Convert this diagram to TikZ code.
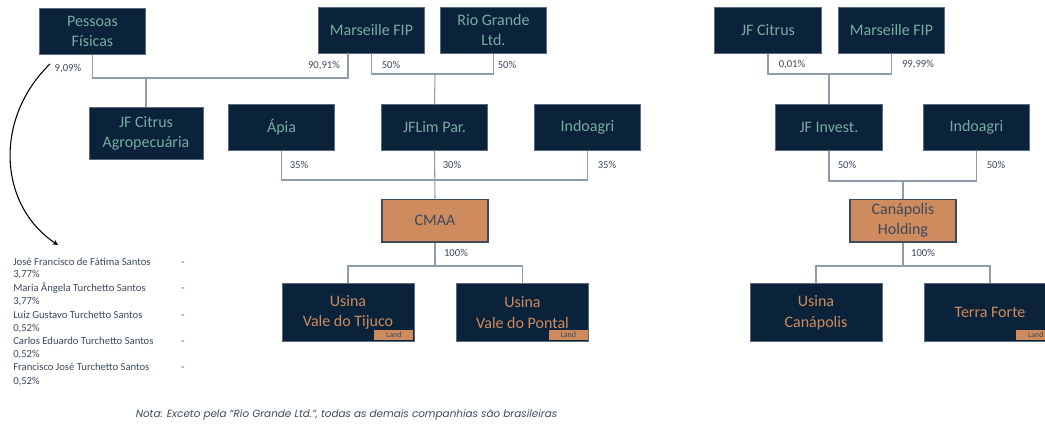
\documentclass[tikz,border=0pt]{standalone}
\usepackage{fontspec}
\setmainfont{Carlito}
\newfontfamily\notefont{Poppins}
\usepackage{tikz}
\usetikzlibrary{arrows,shapes}
\usetikzlibrary{calc}

\definecolor{navy}{HTML}{0B223B}
\definecolor{boxteal}{HTML}{79ABA3}
\definecolor{copper}{HTML}{CE8B5E}
\definecolor{linegray}{HTML}{8E9CAA}
\definecolor{labelgray}{HTML}{3C4A5C}

\begin{document}
\begin{tikzpicture}[x=0.75pt,y=-0.75pt,
	box/.style={draw=linegray!60!navy, line width=0.6pt, fill=navy, text=boxteal, align=center,
		minimum width=80pt, minimum height=34pt, inner sep=1pt, font=\fontsize{12}{15}\selectfont},
	plant/.style={box, text=copper, minimum width=99pt, minimum height=44pt, font=\fontsize{12}{15.5}\selectfont},
	hold/.style={box, draw=labelgray, line width=1pt, fill=copper, text=labelgray, minimum width=79.5pt, minimum height=32pt},
	land/.style={fill=copper, text=labelgray, minimum width=29pt, minimum height=7.5pt, inner sep=0pt, anchor=south east, font=\fontsize{6}{6}\selectfont},
	pct/.style={text=labelgray, inner sep=0pt, font=\fontsize{8}{9}\selectfont},
	lst/.style={text=labelgray, inner sep=0pt, anchor=west, text height=1.5ex, text depth=.3ex, font=\fontsize{8}{10}\selectfont},
	conn/.style={draw=linegray, line width=0.8pt}]
	
	\useasboundingbox (0,0) rectangle (1045,424);
	
	% left group
	\node[box] (pf) at (92.5,31.5) {Pessoas\\F\'isicas};
	\node[box] (mf1) at (371.5,30.5) {Marseille FIP};
	\node[box] (rg) at (493.5,30.5) {Rio Grande\\Ltd.};
	\node[box, minimum width=85.5pt, minimum height=39pt] (jfca) at (146,133) {JF Citrus\\Agropecu\'aria};
	\node[box] (apia) at (281.5,127.5) {\'Apia};
	\node[box] (jflim) at (434.5,127.5) {JFLim Par.};
	\node[box] (indo1) at (587.5,127.5) {Indoagri};
	\node[hold] (cmaa) at (435,220.5) {CMAA};
	\node[plant] (tijuco) at (348,312.5) {Usina\\Vale do Tijuco};
	\node[plant] (pontal) at (522.5,312.5) {Usina\\Vale do Pontal};
	\node[land] (land1) at ($(tijuco.south east)+(-1,-2)$) {Land};
	\node[land] (land2) at ($(pontal.south east)+(-1,-2)$) {Land};
	
	% right group
	\node[box] (jfc) at (768,30.5) {JF Citrus};
	\node[box] (mf2) at (891.5,30.5) {Marseille FIP};
	\node[box] (jfi) at (829,127.5) {JF Invest.};
	\node[box] (indo2) at (976.5,127.5) {Indoagri};
	\node[hold] (canap) at (903,220.5) {Can\'apolis\\Holding};
	\node[plant] (ucan) at (816,312.5) {Usina\\Can\'apolis};
	\node[plant] (tf) at (990,312.5) {Terra Forte};
	\node[land] (land3) at ($(tf.south east)+(-1,-2)$) {Land};
	
	\coordinate (j1) at (146,78);
	\coordinate (m1) at (348,53);
	\coordinate (j2) at (435,74);
	\coordinate (j3) at (435,180);
	\coordinate (j4) at (435,266);
	\coordinate (j5) at (829,74);
	\coordinate (j6) at (903,181);
	\coordinate (j7) at (903,266);
	
	\draw[conn] (pf.south) |- (j1) -| (m1);
	\draw[conn] (j1) -- (jfca.north);
	\draw[conn] (mf1.south) |- (j2) -| (rg.south);
	\draw[conn] (j2) -- (jflim.north);
	\draw[conn] (apia.south) |- (j3) -| (indo1.south);
	\draw[conn] (jflim.south) -- (cmaa.north);
	\draw[conn] (cmaa.south) -- (j4);
	\draw[conn] (tijuco.north) |- (j4) -| (pontal.north);
	\draw[conn] (jfc.south) |- (j5) -| (mf2.south);
	\draw[conn] (j5) -- (jfi.north);
	\draw[conn] (jfi.south) |- (j6) -| (indo2.south);
	\draw[conn] (j6) -- (canap.north);
	\draw[conn] (canap.south) -- (j7);
	\draw[conn] (ucan.north) |- (j7) -| (tf.north);
	
	\node[pct] (p1) at (68,69) {9,09\%};
	\node[pct] (p2) at (324,66) {90,91\%};
	\node[pct] (p3) at (391,65) {50\%};
	\node[pct] (p4) at (507,65) {50\%};
	\node[pct] (p5) at (299,165) {35\%};
	\node[pct] (p6) at (452,165) {30\%};
	\node[pct] (p7) at (607,165) {35\%};
	\node[pct] (p8) at (456,253) {100\%};
	\node[pct] (p9) at (792,65) {0,01\%};
	\node[pct] (p10) at (918,65) {99,99\%};
	\node[pct] (p11) at (847,165) {50\%};
	\node[pct] (p12) at (996,165) {50\%};
	\node[pct] (p13) at (923,253) {100\%};
	
	% individual shareholders
	\coordinate (a0) at (50,64);
	\coordinate (a1) at (58,245);
	\draw[line width=0.8pt, -stealth] (a0) .. controls (-6,118) and (-2,205) .. (a1);
	
	\node[lst] (n1) at (13,262) {Jos\'e Francisco de F\'atima Santos};
	\node[lst] (q1) at (13,273.5) {3,77\%};
	\node[lst] (n2) at (13,288) {Maria \^Angela Turchetto Santos};
	\node[lst] (q2) at (13,301) {3,77\%};
	\node[lst] (n3) at (13,315) {Luiz Gustavo Turchetto Santos};
	\node[lst] (q3) at (13,328) {0,52\%};
	\node[lst] (n4) at (13,341) {Carlos Eduardo Turchetto Santos};
	\node[lst] (q4) at (13,354) {0,52\%};
	\node[lst] (n5) at (13,367) {Francisco Jos\'e Turchetto Santos};
	\node[lst] (q5) at (13,381) {0,52\%};
	\node[lst] (d1) at (181,262) {-};
	\node[lst] (d2) at (181,288) {-};
	\node[lst] (d3) at (181,315) {-};
	\node[lst] (d4) at (181,341) {-};
	\node[lst] (d5) at (181,367) {-};
	
	\node[text=labelgray, font=\notefont\itshape\fontsize{7.8}{9}\selectfont] (nota) at (346.5,415) {Nota: Exceto pela “Rio Grande Ltd.”, todas as demais companhias são brasileiras};
	
\end{tikzpicture}
\end{document}
